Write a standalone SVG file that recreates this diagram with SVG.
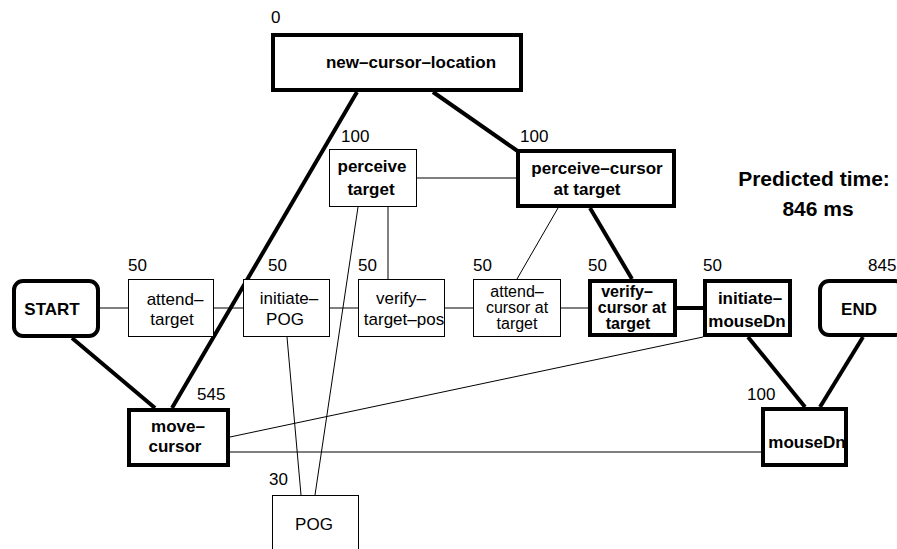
<svg xmlns="http://www.w3.org/2000/svg" width="897" height="549" viewBox="0 0 897 549">
<style>
text{font-family:"Liberation Sans",Arial,sans-serif;font-size:17px;fill:#000}
.b{font-weight:bold}
.c{text-anchor:middle}
.s{font-size:16px}
.pt{font-size:21px;font-weight:bold;text-anchor:middle}
.n{fill:#fff;stroke:#000;stroke-width:1}
.k{fill:#fff;stroke:#000;stroke-width:4}
.t{stroke:#000;stroke-width:1;fill:none}
.h{stroke:#000;stroke-width:4;fill:none}
</style>
<rect width="897" height="549" fill="#fff"/>
<g id="connectors">
<line class="t" x1="100" y1="308" x2="128" y2="308"/>
<line class="t" x1="214" y1="308" x2="243" y2="308"/>
<line class="t" x1="330" y1="308" x2="358" y2="308"/>
<line class="t" x1="445" y1="308" x2="473" y2="308"/>
<line class="t" x1="561" y1="308" x2="588" y2="308"/>
<line class="h" x1="677" y1="308" x2="703" y2="308"/>
<line class="t" x1="417" y1="178" x2="516" y2="178"/>
<line class="t" x1="388" y1="207" x2="388" y2="279"/>
<line class="t" x1="358" y1="207" x2="315" y2="495"/>
<line class="t" x1="287" y1="337" x2="301" y2="495"/>
<line class="t" x1="517" y1="279" x2="558" y2="208"/>
<line class="t" x1="703" y1="337" x2="230" y2="437"/>
<line class="t" x1="230" y1="452" x2="761" y2="452"/>
<line class="h" x1="72" y1="338" x2="155" y2="408"/>
<line class="h" x1="357" y1="92" x2="172" y2="408"/>
<line class="h" x1="433" y1="92" x2="519" y2="152"/>
<line class="h" x1="590" y1="208" x2="632" y2="279"/>
<line class="h" x1="748" y1="337" x2="805" y2="407"/>
<line class="h" x1="863" y1="337" x2="820" y2="407"/>
</g>
<g id="new-cursor-location">
<rect class="k" x="273" y="35" width="248" height="55"/>
<text class="b c" x="411" y="68">new–cursor–location</text>
<text x="271" y="23">0</text>
</g>
<g id="perceive-target">
<rect class="n" x="329.5" y="149.5" width="87" height="57"/>
<text class="b c" x="372" y="172">perceive</text>
<text class="b c" x="371" y="195">target</text>
<text x="341" y="142">100</text>
</g>
<g id="perceive-cursor">
<rect class="k" x="518" y="151" width="156" height="55"/>
<text class="b c" x="597" y="174">perceive–cursor</text>
<text class="b c" x="587" y="195">at target</text>
<text x="520" y="142">100</text>
</g>
<g id="start">
<rect class="k" x="14" y="281" width="84" height="55" rx="9"/>
<text class="b c" x="52" y="315">START</text>
</g>
<g id="attend-target">
<rect class="n" x="128.5" y="279.5" width="85" height="57"/>
<text class="c" x="175" y="305">attend–</text>
<text class="c" x="172" y="325">target</text>
<text x="128" y="271">50</text>
</g>
<g id="initiate-POG">
<rect class="n" x="243.5" y="279.5" width="86" height="57"/>
<text class="c" x="289" y="304">initiate–</text>
<text class="c" x="285" y="325">POG</text>
<text x="268" y="271">50</text>
</g>
<g id="verify-target-pos">
<rect class="n" x="358.5" y="279.5" width="86" height="57"/>
<text class="c" x="401" y="304">verify–</text>
<text class="c" x="404" y="325">target–pos</text>
<text x="358" y="271">50</text>
</g>
<g id="attend-cursor">
<rect class="n" x="473.5" y="279.5" width="87" height="57"/>
<text class="c s" x="517" y="297">attend–</text>
<text class="c s" x="517" y="313">cursor at</text>
<text class="c s" x="517" y="329">target</text>
<text x="473" y="271">50</text>
</g>
<g id="verify-cursor">
<rect class="k" x="590" y="281" width="85" height="54"/>
<text class="b c s" x="627" y="297">verify–</text>
<text class="b c s" x="632" y="313">cursor at</text>
<text class="b c s" x="628" y="329">target</text>
<text x="588" y="271">50</text>
</g>
<g id="initiate-mouseDn">
<rect class="k" x="705" y="281" width="85" height="54"/>
<text class="b c" x="750" y="304">initiate–</text>
<text class="b c" x="747" y="327">mouseDn</text>
<text x="703" y="271">50</text>
</g>
<g id="end">
<rect class="k" x="820" y="281" width="84" height="54" rx="9"/>
<text class="b c" x="859" y="315">END</text>
<text x="868" y="271">845</text>
</g>
<g id="move-cursor">
<rect class="k" x="129" y="410" width="99" height="55"/>
<text class="b c" x="178" y="432">move–</text>
<text class="b c" x="175" y="452">cursor</text>
<text x="197" y="400">545</text>
</g>
<g id="mouseDn">
<rect class="k" x="763" y="409" width="83" height="56"/>
<text class="b c" x="807" y="448">mouseDn</text>
<text x="747" y="400">100</text>
</g>
<g id="POG">
<rect class="n" x="272.5" y="495.5" width="86" height="60"/>
<text class="c" x="314" y="530">POG</text>
<text x="269" y="485">30</text>
</g>
<g id="predicted-time">
<text class="pt" x="814" y="186">Predicted time:</text>
<text class="pt" x="818" y="216">846 ms</text>
</g>
</svg>
